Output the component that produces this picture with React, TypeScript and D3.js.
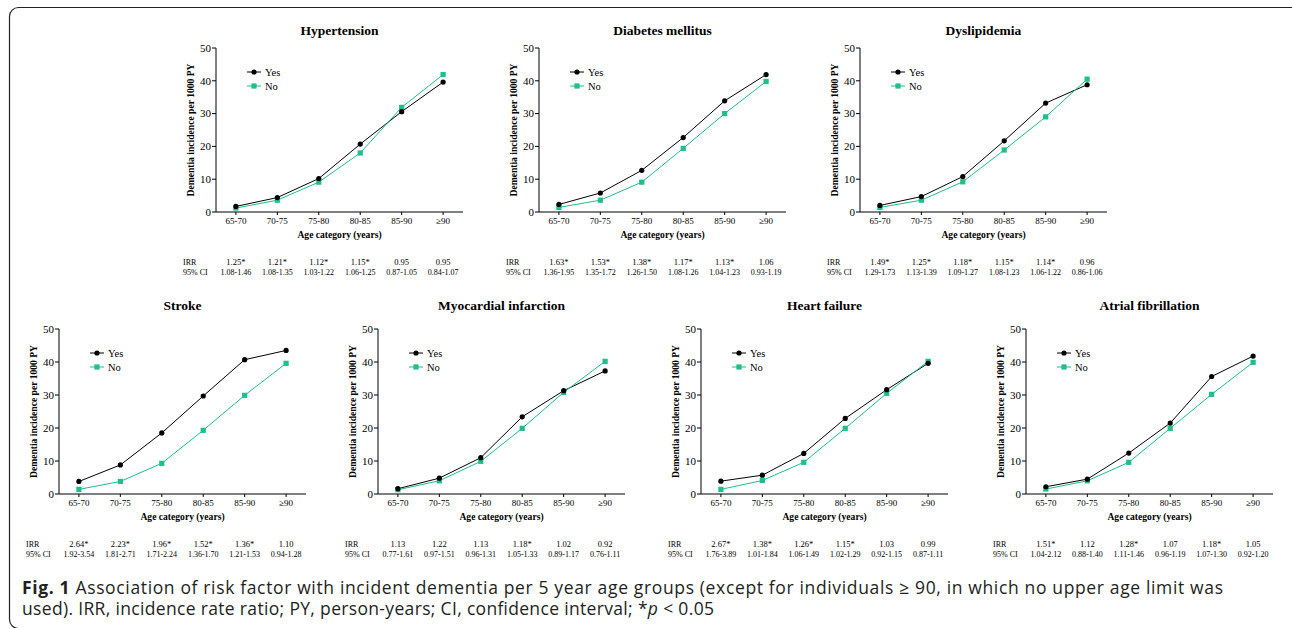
import React from 'react'
import * as d3 from 'd3'

const AGE_GROUPS = ['65-70', '70-75', '75-80', '80-85', '85-90', '≥90']
const Y_TICKS = [0, 10, 20, 30, 40, 50]

const TITLES = [
  'Hypertension',
  'Diabetes mellitus',
  'Dyslipidemia',
  'Stroke',
  'Myocardial infarction',
  'Heart failure',
  'Atrial fibrillation',
]

// dementia incidence per 1000 PY, exposed ("Yes") and unexposed ("No")
const YES_VALUES = [
  [1.7, 4.4, 10.2, 20.7, 30.6, 39.6],
  [2.3, 5.8, 12.7, 22.7, 33.9, 41.9],
  [2.0, 4.7, 10.8, 21.7, 33.2, 38.8],
  [3.8, 8.8, 18.5, 29.7, 40.7, 43.5],
  [1.6, 4.8, 11.0, 23.4, 31.3, 37.3],
  [3.9, 5.7, 12.3, 22.9, 31.6, 39.6],
  [2.2, 4.5, 12.4, 21.5, 35.6, 41.8],
]
const NO_VALUES = [
  [1.2, 3.6, 9.1, 18.0, 31.9, 41.9],
  [1.4, 3.6, 9.1, 19.4, 30.0, 39.8],
  [1.4, 3.6, 9.2, 18.9, 29.0, 40.5],
  [1.4, 3.8, 9.3, 19.3, 29.9, 39.6],
  [1.3, 4.0, 9.9, 19.9, 30.8, 40.2],
  [1.4, 4.1, 9.6, 19.9, 30.5, 40.2],
  [1.5, 4.0, 9.6, 19.9, 30.2, 39.9],
]

const IRR_LABELS = [
  ['1.25*', '1.21*', '1.12*', '1.15*', '0.95', '0.95'],
  ['1.63*', '1.53*', '1.38*', '1.17*', '1.13*', '1.06'],
  ['1.49*', '1.25*', '1.18*', '1.15*', '1.14*', '0.96'],
  ['2.64*', '2.23*', '1.96*', '1.52*', '1.36*', '1.10'],
  ['1.13', '1.22', '1.13', '1.18*', '1.02', '0.92'],
  ['2.67*', '1.38*', '1.26*', '1.15*', '1.03', '0.99'],
  ['1.51*', '1.12', '1.28*', '1.07', '1.18*', '1.05'],
]
const CI_LABELS = [
  ['1.08-1.46', '1.08-1.35', '1.03-1.22', '1.06-1.25', '0.87-1.05', '0.84-1.07'],
  ['1.36-1.95', '1.35-1.72', '1.26-1.50', '1.08-1.26', '1.04-1.23', '0.93-1.19'],
  ['1.29-1.73', '1.13-1.39', '1.09-1.27', '1.08-1.23', '1.06-1.22', '0.86-1.06'],
  ['1.92-3.54', '1.81-2.71', '1.71-2.24', '1.36-1.70', '1.21-1.53', '0.94-1.28'],
  ['0.77-1.61', '0.97-1.51', '0.96-1.31', '1.05-1.33', '0.89-1.17', '0.76-1.11'],
  ['1.76-3.89', '1.01-1.84', '1.06-1.49', '1.02-1.29', '0.92-1.15', '0.87-1.11'],
  ['1.04-2.12', '0.88-1.40', '1.11-1.46', '0.96-1.19', '1.07-1.30', '0.92-1.20'],
]

const SERIES_NAMES = ['Yes', 'No']

const WIDTH = 1292
const HEIGHT = 628
const PLOT_W = 247
const GREEN = '#1cc088'
const SERIF = "'Liberation Serif', 'DejaVu Serif', serif"
const SANS = "'Open Sans', 'Noto Sans', sans-serif"

// panel placement: y-axis x position, top (50) and zero pixel rows
const LAYOUT = [
  { x: 216, top: 48, zero: 212, titleY: 35 },
  { x: 539, top: 48, zero: 212, titleY: 35 },
  { x: 860, top: 48, zero: 212, titleY: 35 },
  { x: 59, top: 329, zero: 494, titleY: 310 },
  { x: 378, top: 329, zero: 494, titleY: 310 },
  { x: 701, top: 329, zero: 494, titleY: 310 },
  { x: 1026, top: 329, zero: 494, titleY: 310 },
]

function Panel({ i }: { i: number }) {
  const { x, top, zero, titleY } = LAYOUT[i]
  const xScale = d3
    .scalePoint<string>()
    .domain(AGE_GROUPS)
    .range([x, x + PLOT_W])
    .padding(0.48)
  const yScale = d3.scaleLinear().domain([0, 50]).range([zero, top])

  const line = d3
    .line<number>()
    .x((_, j) => xScale(AGE_GROUPS[j]) as number)
    .y((d) => yScale(d))

  const yes = YES_VALUES[i]
  const no = NO_VALUES[i]
  const legendX = x + 38
  const legendY1 = top + 24
  const legendY2 = top + 38
  const midX = x + PLOT_W / 2

  return (
    <g style={{ fontFamily: SERIF }}>
      <text x={midX} y={titleY} textAnchor="middle" fontWeight="bold" fontSize={13.5}>
        {TITLES[i]}
      </text>

      {/* y axis */}
      <line x1={x} x2={x} y1={zero} y2={top} stroke="#000" strokeWidth={1} />
      {Y_TICKS.map((t) => (
        <g key={t}>
          <line x1={x - 4} x2={x} y1={yScale(t)} y2={yScale(t)} stroke="#000" />
          <text x={x - 5} y={yScale(t) + 3.8} textAnchor="end" fontSize={11}>
            {t}
          </text>
        </g>
      ))}
      <text
        transform={`translate(${x - 22},${(top + zero) / 2}) rotate(-90)`}
        textAnchor="middle"
        fontWeight="bold"
        fontSize={9.6}
      >
        Dementia incidence per 1000 PY
      </text>

      {/* x axis */}
      <line x1={x} x2={x + PLOT_W} y1={zero} y2={zero} stroke="#000" strokeWidth={1} />
      {AGE_GROUPS.map((g) => (
        <g key={g}>
          <line x1={xScale(g)} x2={xScale(g)} y1={zero} y2={zero + 3} stroke="#000" />
          <text x={xScale(g)} y={zero + 11.5} textAnchor="middle" fontSize={9}>
            {g}
          </text>
        </g>
      ))}
      <text x={midX} y={zero + 26} textAnchor="middle" fontWeight="bold" fontSize={9.6}>
        Age category (years)
      </text>

      {/* series */}
      <path d={line(yes) ?? ''} fill="none" stroke="#000" strokeWidth={1} />
      <path d={line(no) ?? ''} fill="none" stroke={GREEN} strokeWidth={1} />
      {no.map((v, j) => (
        <rect
          key={`n${j}`}
          x={(xScale(AGE_GROUPS[j]) as number) - 2.6}
          y={yScale(v) - 2.6}
          width={5.2}
          height={5.2}
          fill={GREEN}
        />
      ))}
      {yes.map((v, j) => (
        <circle key={`y${j}`} cx={xScale(AGE_GROUPS[j])} cy={yScale(v)} r={2.6} fill="#000" />
      ))}

      {/* legend */}
      <line x1={legendX - 7} x2={legendX + 7} y1={legendY1} y2={legendY1} stroke="#000" />
      <circle cx={legendX} cy={legendY1} r={2.6} fill="#000" />
      <text x={legendX + 11} y={legendY1 + 3.5} fontSize={10.5}>
        {SERIES_NAMES[0]}
      </text>
      <line x1={legendX - 7} x2={legendX + 7} y1={legendY2} y2={legendY2} stroke={GREEN} />
      <rect x={legendX - 2.6} y={legendY2 - 2.6} width={5.2} height={5.2} fill={GREEN} />
      <text x={legendX + 11} y={legendY2 + 3.5} fontSize={10.5}>
        {SERIES_NAMES[1]}
      </text>

      {/* IRR table */}
      <text x={x - 33} y={zero + 53} fontSize={8}>
        IRR
      </text>
      <text x={x - 33} y={zero + 63} fontSize={8}>
        95% CI
      </text>
      {AGE_GROUPS.map((g, j) => (
        <g key={`t${g}`}>
          <text x={xScale(g)} y={zero + 53} textAnchor="middle" fontSize={8.5}>
            {IRR_LABELS[i][j]}
          </text>
          <text x={xScale(g)} y={zero + 63} textAnchor="middle" fontSize={8}>
            {CI_LABELS[i][j]}
          </text>
        </g>
      ))}
    </g>
  )
}

export default function App() {
  return (
    <div style={{ position: 'absolute', left: 0, top: 0, background: '#fff' }}>
      <svg width={WIDTH} height={HEIGHT} style={{ display: 'block' }}>
        <rect width={WIDTH} height={HEIGHT} fill="#fff" />
        <rect
          x={9.5}
          y={7.5}
          width={WIDTH + 20}
          height={621}
          rx={9}
          fill="none"
          stroke="#222"
          strokeWidth={1.2}
        />
        {TITLES.map((_, i) => (
          <Panel key={i} i={i} />
        ))}
        <g style={{ fontFamily: SANS }} fill="#231f20" fontSize={17.5}>
          <text x={22} y={594} textLength={1201} lengthAdjust="spacing">
            <tspan fontWeight="bold">Fig. 1</tspan>
            <tspan> Association of risk factor with incident dementia per 5 year age groups (except for individuals ≥ 90, in which no upper age limit was</tspan>
          </text>
          <text x={22} y={615} textLength={692} lengthAdjust="spacing">
            used). IRR, incidence rate ratio; PY, person-years; CI, confidence interval; *
            <tspan fontStyle="italic">p</tspan> &lt; 0.05
          </text>
        </g>
      </svg>
    </div>
  )
}
